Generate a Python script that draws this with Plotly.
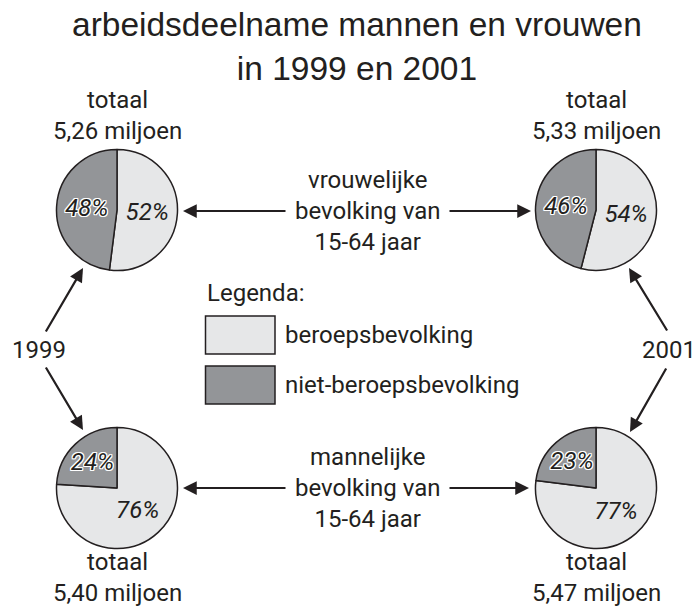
import plotly.graph_objects as go

# ---- data ----
years = ["1999", "2001"]
categories = ["beroepsbevolking", "niet-beroepsbevolking"]
vrouw_beroeps = [52, 54]
vrouw_niet = [48, 46]
man_beroeps = [76, 77]
man_niet = [24, 23]
totaal_vrouw = ["5,26", "5,33"]
totaal_man = ["5,40", "5,47"]

W, H = 697, 607
INK = "#231f20"
LIGHT = "#e6e7e8"
DARK = "#939598"
BODY = "Roboto, Liberation Sans, sans-serif"
HALO = ("1px 1px 0 #fff, -1px -1px 0 #fff, 1px -1px 0 #fff, -1px 1px 0 #fff, "
        "0 1px 0 #fff, 0 -1px 0 #fff, 1px 0 0 #fff, -1px 0 0 #fff")

fig = go.Figure()

centres = {
    ("v", 0): (117, 210), ("v", 1): (596, 210),
    ("m", 0): (117, 488), ("m", 1): (596, 488),
}
R = 60.5

def dom(cx, cy):
    return dict(x=[(cx - R) / W, (cx + R) / W],
                y=[1 - (cy + R) / H, 1 - (cy - R) / H])

for key, (ber, niet) in {"v": (vrouw_beroeps, vrouw_niet), "m": (man_beroeps, man_niet)}.items():
    for i, yr in enumerate(years):
        cx, cy = centres[(key, i)]
        fig.add_trace(go.Pie(
            labels=categories,
            values=[ber[i], niet[i]],
            sort=False, direction="clockwise", rotation=0,
            domain=dom(cx, cy),
            marker=dict(colors=[LIGHT, DARK], line=dict(color=INK, width=1.5)),
            texttemplate="%{value}%",
            textposition="inside",
            insidetextorientation="horizontal",
            insidetextfont=dict(family=BODY, size=24, color=INK, style="italic",
                                shadow=["none", HALO]),
            hoverinfo="skip",
            showlegend=False,
        ))

ann = []
shapes = []

def text(x, y, t, size=24, xanchor="center", family=BODY):
    ann.append(dict(x=x, y=y, xref="x", yref="y", text=t, showarrow=False,
                    xanchor=xanchor, yanchor="middle",
                    font=dict(family=family, size=size, color=INK)))

def arrow(x0, y0, x1, y1):
    ann.append(dict(x=x1, y=y1, ax=x0, ay=y0, xref="x", yref="y", axref="x", ayref="y",
                    text="", showarrow=True, arrowhead=2, arrowsize=1.25,
                    arrowwidth=2.2, arrowcolor=INK, standoff=0, startstandoff=0))

# title
text(357, 46, "arbeidsdeelname mannen en vrouwen<br>in 1999 en 2001", size=33.5,
     family="Liberation Sans, Arial, sans-serif")

# totals
text(117, 115, "totaal<br>" + totaal_vrouw[0] + " miljoen")
text(596, 115, "totaal<br>" + totaal_vrouw[1] + " miljoen")
text(117, 577, "totaal<br>" + totaal_man[0] + " miljoen")
text(596, 577, "totaal<br>" + totaal_man[1] + " miljoen")

# middle texts + arrows
text(367, 211, "vrouwelijke<br>bevolking van<br>15-64 jaar")
text(367, 488, "mannelijke<br>bevolking van<br>15-64 jaar")
arrow(287, 211, 183, 211)
arrow(448, 211, 531, 211)
arrow(287, 488, 183, 488)
arrow(448, 488, 529, 488)

# year labels + arrows
text(39, 350, years[0])
text(669, 350, years[1])
arrow(45, 333, 83, 268)
arrow(45, 366, 83, 430)
arrow(668, 332, 629, 268)
arrow(667, 367, 630, 432)

# legend
text(205, 293, "Legenda:", xanchor="left")
for (y0, col, lab) in [(316, LIGHT, categories[0]), (366, DARK, categories[1])]:
    shapes.append(dict(type="rect", xref="x", yref="y", x0=205.5, x1=275, y0=y0, y1=y0 + 38,
                       fillcolor=col, line=dict(color=INK, width=1.5)))
    text(283, y0 + 19, lab, xanchor="left")

fig.update_layout(
    width=W, height=H,
    margin=dict(l=0, r=0, t=0, b=0),
    paper_bgcolor="white", plot_bgcolor="white",
    xaxis=dict(range=[0, W], visible=False, fixedrange=True),
    yaxis=dict(range=[H, 0], visible=False, fixedrange=True),
    annotations=ann, shapes=shapes,
    uniformtext=dict(minsize=23, mode="show"),
    showlegend=False,
)

fig.write_html(
    "out.html",
    config={"displayModeBar": False, "staticPlot": True},
    post_script="document.body.style.margin='0px';document.body.style.overflow='hidden';",
)
